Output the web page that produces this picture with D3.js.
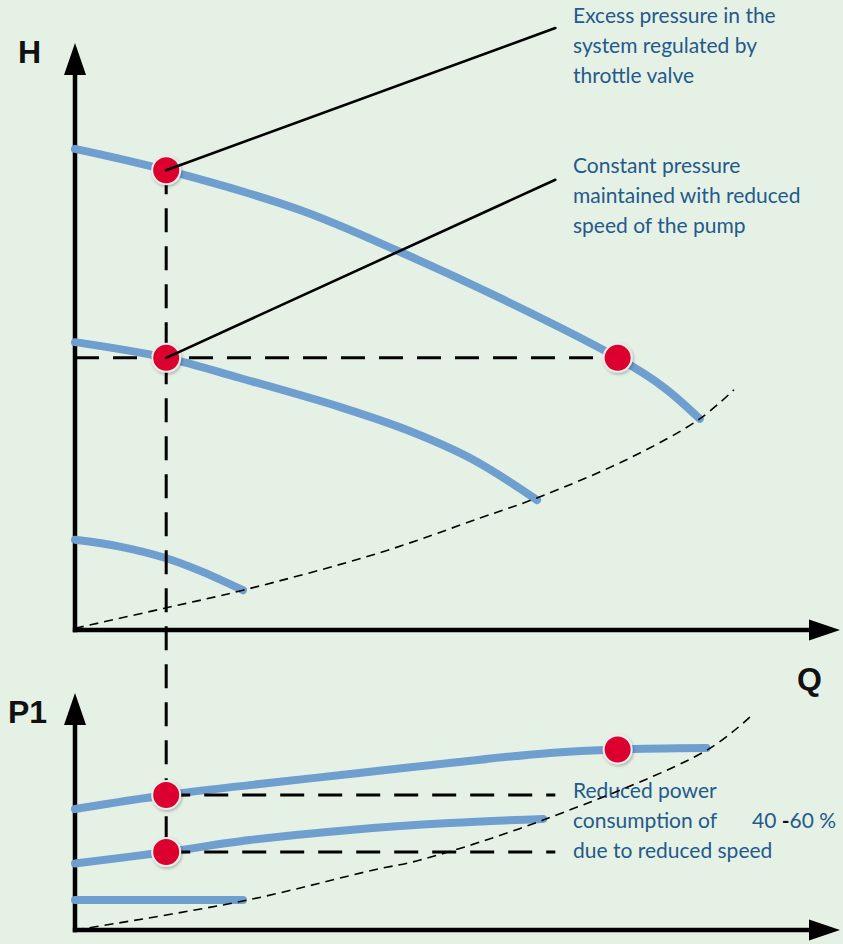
<!DOCTYPE html>
<html>
<head>
<meta charset="utf-8">
<script src="https://cdn.jsdelivr.net/npm/d3@7"></script>
<style>
  html, body { margin: 0; padding: 0; background: #e6f1e5; }
  svg { display: block; }
</style>
</head>
<body>
<svg id="chart" width="843" height="944"></svg>
<script>
// ---------------- DATA ----------------
// Pump head curves H(Q) at three speeds
const qHeadFull   = [0, 12, 29.6, 42.8, 55.9, 71.4, 77.4, 82.2];
const headFull    = [85.9, 82.1, 75.0, 67.5, 59.3, 48.6, 43.4, 37.7];
const qHeadMid    = [0, 12, 21.7, 34.9, 43.7, 52.4, 60.8];
const headMid     = [51.4, 48.6, 45.0, 39.8, 35.7, 30.4, 23.2];
const qHeadLow    = [0, 5.9, 11.8, 16.4, 22.1];
const headLow     = [16.1, 14.9, 12.9, 10.6, 7.1];
// System curve (top)
const qSystem     = [0, 11.8, 22.1, 40.1, 53.3, 61.2, 73.0, 82.2, 86.7];
const headSystem  = [0.3, 3.9, 7.1, 13.8, 20.0, 23.8, 30.7, 37.7, 42.9];
// Power curves P1(Q)
const qPowerFull  = [0, 12, 23.0, 36.2, 49.3, 62.5, 71.4, 83.1];
const powerFull   = [52.6, 58.7, 63.0, 67.8, 72.6, 77.0, 78.5, 79.1];
const qPowerMid   = [0, 12, 23.0, 36.2, 49.3, 61.6];
const powerMid    = [28.9, 33.9, 39.1, 43.5, 46.5, 48.3];
const qPowerLow   = [0, 22.1];
const powerLow    = [13.0, 13.0];
// Power along system curve (bottom)
const qPowerSys   = [0, 22.1, 39.3, 45.4, 61.6, 83.2, 88.8];
const powerSys    = [0, 12.6, 26.1, 30.4, 47.8, 78.3, 92.6];
// Operating points
const qOpHead     = [12, 12, 71.4];
const hOpHead     = [82.1, 48.6, 48.6];
const qOpPower    = [12, 12, 71.4];
const pOpPower    = [58.7, 33.9, 78.5];
// Reference lines
const qDutyLine   = 12;       // vertical dashed line
const hDutyLine   = 48.6;     // horizontal dashed line (head)
const qPowerRefEnd = 63.2;    // end of horizontal power reference lines
// Annotation anchors (Q, H) for leader lines
const leaderEndQ  = [63.2, 63.2];
const leaderEndH  = [107.5, 80.4];
// Texts
const axisLabels  = ["H", "Q", "P1"];
const note1       = ["Excess pressure in the", "system regulated by", "throttle valve"];
const note2       = ["Constant pressure", "maintained with reduced", "speed of the pump"];
const note3       = ["Reduced power", "consumption of", "due to reduced speed"];
const note3Value  = ["40 ", "-", "60 %"];

// ---------------- SCALES ----------------
const svg = d3.select("#chart");
const x    = d3.scaleLinear().domain([0, 100]).range([75, 835]);
const yTop = d3.scaleLinear().domain([0, 100]).range([630, 70]);
const yBot = d3.scaleLinear().domain([0, 100]).range([930, 700]);

const BLUE = "#6f9fcf", RED = "#dc002e", TXT = "#235a8b";

svg.append("rect").attr("width", 843).attr("height", 944).attr("fill", "#e6f1e5");

const defs = svg.append("defs");
const f = defs.append("filter").attr("id", "sh").attr("x", "-50%").attr("y", "-50%").attr("width", "200%").attr("height", "200%");
f.append("feDropShadow").attr("dx", 1).attr("dy", 1.5).attr("stdDeviation", 1.5).attr("flood-color", "#000").attr("flood-opacity", 0.28);

// ---------------- TEXT ANNOTATIONS ----------------
const tg = svg.append("g").attr("font-family", "Lato, 'Open Sans', sans-serif").attr("font-size", 21).attr("fill", TXT);
function block(lines, x0, y0) {
  lines.forEach((t, i) => tg.append("text").attr("x", x0).attr("y", y0 + i * 30).text(t));
}
block(note1, 573, 23);
block(note2, 573, 173);
block(note3, 573, 798);
const vt = tg.append("text").attr("x", 752).attr("y", 828);
vt.append("tspan").text(note3Value[0]);
vt.append("tspan").attr("fill", "#111").attr("font-weight", "bold").text(note3Value[1]);
vt.append("tspan").text(note3Value[2]);

// ---------------- AXES ----------------
const ax = svg.append("g");
function axisPair(yScale, tipY) {
  const x0 = x(0), y0 = yScale(0);
  ax.append("line").attr("x1", x0).attr("y1", y0 + 2.2).attr("x2", x0).attr("y2", tipY + 30)
    .attr("stroke", "#000").attr("stroke-width", 4.5);
  ax.append("path").attr("d", `M${x0},${tipY} L${x0 - 11},${tipY + 32} L${x0 + 11},${tipY + 32} Z`).attr("fill", "#000");
  ax.append("line").attr("x1", x0 - 2.2).attr("y1", y0).attr("x2", 812).attr("y2", y0)
    .attr("stroke", "#000").attr("stroke-width", 4.5);
  ax.append("path").attr("d", `M840,${y0} L809,${y0 - 10.5} L809,${y0 + 10.5} Z`).attr("fill", "#000");
}
axisPair(yTop, 43);
axisPair(yBot, 693);

const lg = svg.append("g").attr("font-family", "'Liberation Sans', Arial, sans-serif").attr("font-weight", "bold").attr("font-size", 32).attr("fill", "#111");
lg.append("text").attr("x", 18).attr("y", 63).text(axisLabels[0]);
lg.append("text").attr("x", 797).attr("y", 690).text(axisLabels[1]);
lg.append("text").attr("x", 8).attr("y", 723).text(axisLabels[2]);

// ---------------- CURVES ----------------
const curve = d3.curveCatmullRom.alpha(0.5);
const lineTop = d3.line().x(d => x(d[0])).y(d => yTop(d[1])).curve(curve);
const lineBot = d3.line().x(d => x(d[0])).y(d => yBot(d[1])).curve(curve);

const cg = svg.append("g").attr("fill", "none").attr("stroke", BLUE).attr("stroke-width", 8).attr("stroke-linecap", "round");
[[qHeadFull, headFull], [qHeadMid, headMid], [qHeadLow, headLow]].forEach(([q, h]) =>
  cg.append("path").attr("d", lineTop(d3.zip(q, h))));
[[qPowerFull, powerFull], [qPowerMid, powerMid], [qPowerLow, powerLow]].forEach(([q, p]) =>
  cg.append("path").attr("d", lineBot(d3.zip(q, p))));

// system curves (thin dashed)
const sg = svg.append("g").attr("fill", "none").attr("stroke", "#000").attr("stroke-width", 1.6).attr("stroke-dasharray", "9,6");
sg.append("path").attr("d", lineTop(d3.zip(qSystem, headSystem)));
sg.append("path").attr("d", lineBot(d3.zip(qPowerSys, powerSys)));

// ---------------- REFERENCE DASHED LINES ----------------
const dg = svg.append("g").attr("stroke", "#000").attr("stroke-width", 3).attr("stroke-dasharray", "24,14");
dg.append("line").attr("x1", x(qDutyLine)).attr("x2", x(qDutyLine)).attr("y1", yTop(hOpHead[0])).attr("y2", yBot(pOpPower[1]));
dg.append("line").attr("x1", x(0)).attr("x2", x(qOpHead[2])).attr("y1", yTop(hDutyLine)).attr("y2", yTop(hDutyLine));
dg.append("line").attr("x1", x(qDutyLine)).attr("x2", x(qPowerRefEnd)).attr("y1", yBot(pOpPower[0])).attr("y2", yBot(pOpPower[0]));
dg.append("line").attr("x1", x(qDutyLine)).attr("x2", x(qPowerRefEnd)).attr("y1", yBot(pOpPower[1])).attr("y2", yBot(pOpPower[1]));

// ---------------- MARKERS ----------------
const mg = svg.append("g").attr("fill", RED).attr("stroke", "#ececec").attr("stroke-width", 2).attr("filter", "url(#sh)");
d3.zip(qOpHead, hOpHead).forEach(d => mg.append("circle").attr("cx", x(d[0])).attr("cy", yTop(d[1])).attr("r", 14));
d3.zip(qOpPower, pOpPower).forEach(d => mg.append("circle").attr("cx", x(d[0])).attr("cy", yBot(d[1])).attr("r", 14));

// ---------------- LEADER LINES ----------------
const leadg = svg.append("g").attr("stroke", "#000").attr("stroke-width", 2.6).attr("stroke-linecap", "round");
[0, 1].forEach(i => leadg.append("line")
  .attr("x1", x(qOpHead[i])).attr("y1", yTop(hOpHead[i]))
  .attr("x2", x(leaderEndQ[i])).attr("y2", yTop(leaderEndH[i])));
</script>
</body>
</html>
